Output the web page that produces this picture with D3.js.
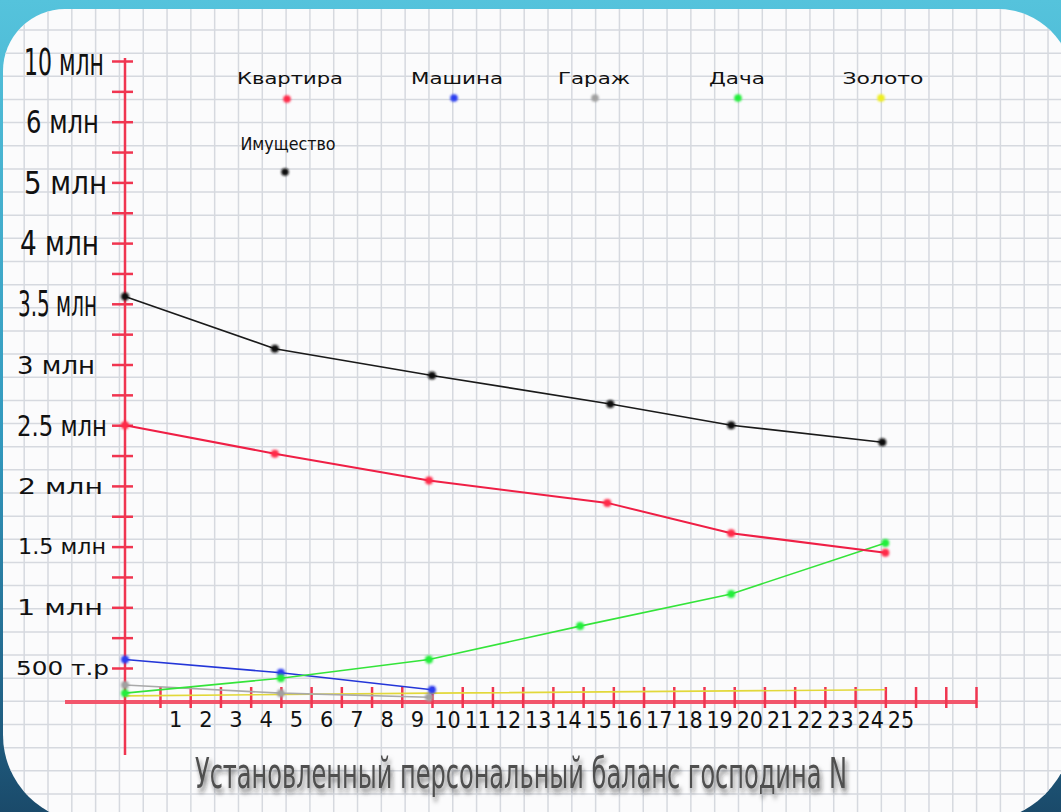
<!DOCTYPE html>
<html>
<head>
<meta charset="utf-8">
<script src="https://cdn.jsdelivr.net/npm/d3@7"></script>
<style>
  html, body { margin: 0; padding: 0; background: #fff; overflow: hidden; }
  svg { display: block; }
</style>
</head>
<body>
<div id="chart-area"></div>
<script>
// ---- data (values in millions) ----
var xLabels = d3.range(1, 26);                       // 1 .. 25
var xTickValues = d3.range(0.5, 28, 1);              // ticks between the numbers
var yTickValues = [0.5, 1, 1.5, 2, 2.5, 3, 3.5, 4, 5, 6, 10];
var yTickLabels = ["500 т.р", "1 млн", "1.5 млн", "2 млн", "2.5 млн", "3 млн",
                   "3.5 млн", "4 млн", "5 млн", "6 млн", "10 млн"];
var yMinorTicks = [0.75, 1.25, 1.75, 2.25, 2.75, 3.25, 3.75, 4.5, 5.5, 8];

var seriesNames = ["Квартира", "Машина", "Гараж", "Дача", "Золото", "Имущество"];

var kvartiraX  = [0, 4.3, 9.4, 15.3, 19.4, 24.5];
var kvartiraY  = [2.5, 2.265, 2.045, 1.86, 1.61, 1.45];
var mashinaX   = [0, 4.5, 9.5];
var mashinaY   = [0.57, 0.43, 0.18];
var garazhX    = [0, 4.5, 9.4];
var garazhY    = [0.25, 0.13, 0.07];
var dachaX     = [0, 4.5, 9.4, 14.4, 19.4, 24.5];
var dachaY     = [0.13, 0.35, 0.57, 0.845, 1.11, 1.53];
var zolotoX    = [0, 9.5, 24.5];
var zolotoY    = [0.09, 0.13, 0.18];
var imushX     = [0, 4.3, 9.5, 15.4, 19.4, 24.4];
var imushY     = [3.56, 3.13, 2.91, 2.675, 2.5, 2.36];

var title = "Установленный персональный баланс господина N";

// ---- styles ----
var NARROW = "'Liberation Sans Narrow', 'DejaVu Sans Condensed', sans-serif";
var WIDE = "'DejaVu Sans', Verdana, sans-serif";

var seriesStyle = {
  "Квартира":  { line: "#ef1f45", dot: "#ff2a48", width: 2 },
  "Машина":    { line: "#2436d8", dot: "#2a3cf0", width: 1.6 },
  "Гараж":     { line: "#a9a9a9", dot: "#a0a0a0", width: 1.6 },
  "Дача":      { line: "#34e43a", dot: "#22ee3a", width: 1.6 },
  "Золото":    { line: "#e2d83a", dot: "#eeee22", width: 1.6 },
  "Имущество": { line: "#1a1a1a", dot: "#111111", width: 1.6 }
};

// y label look differs from label to label (hand made picture)
var yLabelStyle = {
  "10 млн":  { font: NARROW, size: 38, w: 80, x: 24 },
  "6 млн":   { font: NARROW, size: 32, w: 73, x: 26 },
  "5 млн":   { font: NARROW, size: 32, w: 83, x: 24 },
  "4 млн":   { font: NARROW, size: 33, w: 79, x: 20 },
  "3.5 млн": { font: NARROW, size: 35, w: 79, x: 18 },
  "3 млн":   { font: WIDE,   size: 25, w: 78, x: 17 },
  "2.5 млн": { font: NARROW, size: 29, w: 90, x: 17 },
  "2 млн":   { font: WIDE,   size: 22, w: 85, x: 18 },
  "1.5 млн": { font: WIDE,   size: 21, w: 88, x: 18 },
  "1 млн":   { font: WIDE,   size: 21, w: 86, x: 17 },
  "500 т.р": { font: WIDE,   size: 19, w: 93, x: 16 }
};

// legend layout
var legendPos = {
  "Квартира":  { x: 290, dx: 287, ty: 84,  dy: 99,  w: 106, font: WIDE, size: 15.5 },
  "Машина":    { x: 457, dx: 454, ty: 84,  dy: 98,  w: 92,  font: WIDE, size: 15.5 },
  "Гараж":     { x: 594, dx: 595, ty: 84,  dy: 98,  w: 72,  font: WIDE, size: 15.5 },
  "Дача":      { x: 737, dx: 738, ty: 84,  dy: 98,  w: 56,  font: WIDE, size: 15.5 },
  "Золото":    { x: 883, dx: 881, ty: 84,  dy: 98,  w: 81,  font: WIDE, size: 15.5 },
  "Имущество": { x: 288, dx: 285, ty: 150, dy: 172, w: 95,  font: NARROW, size: 18 }
};

function init() {
  var W = 1061, H = 812;

  var svg = d3.select("#chart-area").append("svg")
      .attr("width", W)
      .attr("height", H);

  var defs = svg.append("defs");

  var grad = defs.append("linearGradient")
      .attr("id", "frameGrad")
      .attr("x1", 0).attr("y1", 0).attr("x2", 0).attr("y2", 1);
  grad.append("stop").attr("offset", "0%").attr("stop-color", "#55c3dc");
  grad.append("stop").attr("offset", "55%").attr("stop-color", "#3298bd");
  grad.append("stop").attr("offset", "85%").attr("stop-color", "#22658a");
  grad.append("stop").attr("offset", "100%").attr("stop-color", "#1a4a6a");

  var blur = defs.append("filter").attr("id", "soft")
      .attr("x", "-100%").attr("y", "-100%").attr("width", "300%").attr("height", "300%");
  blur.append("feGaussianBlur").attr("stdDeviation", 1.1);

  var shadow = defs.append("filter").attr("id", "shadow")
      .attr("x", "-10%").attr("y", "-30%").attr("width", "120%").attr("height", "180%");
  shadow.append("feDropShadow")
      .attr("dx", 2).attr("dy", 3).attr("stdDeviation", 2)
      .attr("flood-color", "#222").attr("flood-opacity", 0.6);

  // rounded paper with different corner radii
  function paperPath(x0, y0, x1, y1, rtl, rtr, rbr, rbl) {
    var p = d3.path();
    p.moveTo(x0 + rtl, y0);
    p.lineTo(x1 - rtr, y0);
    p.arcTo(x1, y0, x1, y0 + rtr, rtr);
    p.lineTo(x1, y1 - rbr);
    p.arcTo(x1, y1, x1 - rbr, y1, rbr);
    p.lineTo(x0 + rbl, y1);
    p.arcTo(x0, y1, x0, y1 - rbl, rbl);
    p.lineTo(x0, y0 + rtl);
    p.arcTo(x0, y0, x0 + rtl, y0, rtl);
    p.closePath();
    return p.toString();
  }
  var paperD = paperPath(3, 9, 1073, 822, 62, 75, 95, 87);

  defs.append("clipPath").attr("id", "paperClip")
    .append("path").attr("d", paperD);

  // frame
  svg.append("rect")
      .attr("width", W).attr("height", H)
      .attr("fill", "url(#frameGrad)");

  svg.append("path")
      .attr("d", paperD)
      .attr("fill", "#fbfbfc");

  // grid paper
  var grid = svg.append("g").attr("clip-path", "url(#paperClip)");
  grid.selectAll(".vgrid")
      .data(d3.range(-2, 45).map(function(k) { return 48 + k * 23.81; }))
      .enter().append("line")
      .attr("class", "vgrid")
      .attr("x1", function(d) { return d; }).attr("x2", function(d) { return d; })
      .attr("y1", 0).attr("y2", H)
      .attr("stroke", "#d6d9df").attr("stroke-width", 1.5);
  grid.selectAll(".hgrid")
      .data(d3.range(-1, 36).map(function(k) { return 30 + k * 23.15; }))
      .enter().append("line")
      .attr("class", "hgrid")
      .attr("y1", function(d) { return d; }).attr("y2", function(d) { return d; })
      .attr("x1", 0).attr("x2", W)
      .attr("stroke", "#d6d9df").attr("stroke-width", 1.5);

  // Scales (the drawn axes are not even, so both scales are piecewise)
  var x = d3.scaleLinear()
      .domain([0, 0.5, 27.5])
      .range([125, 160, 976]);

  var yStep = (668 - 61) / (yTickValues.length - 1);
  var y = d3.scaleLinear()
      .domain([0].concat(yTickValues))
      .range([702].concat(yTickValues.map(function(d, i) { return 668 - i * yStep; })));

  var axisRed = "#f03550";

  // X axis line
  svg.append("line")
      .attr("x1", 65).attr("x2", x(27.5))
      .attr("y1", y(0)).attr("y2", y(0))
      .attr("stroke", "#f2566c").attr("stroke-width", 4);

  // X ticks (cross the line)
  var xTicks = svg.append("g")
      .attr("class", "x axis")
      .attr("transform", "translate(0," + (y(0) - 15) + ")")
      .call(d3.axisBottom(x).tickValues(xTickValues).tickSize(21).tickFormat(""));
  xTicks.select(".domain").remove();
  xTicks.selectAll("line").attr("stroke", axisRed).attr("stroke-width", 2.5);

  // X labels
  var xLab = svg.append("g")
      .attr("transform", "translate(0," + (y(0) + 7) + ")")
      .call(d3.axisBottom(x).tickValues(xLabels).tickSize(0).tickPadding(3));
  xLab.select(".domain").remove();
  xLab.selectAll("text")
      .attr("fill", "#111")
      .style("font-family", function(d) { return d < 10 ? WIDE : NARROW; })
      .style("font-size", function(d) { return d < 10 ? "21px" : "23px"; });

  // Y axis line
  svg.append("line")
      .attr("x1", 125).attr("x2", 125)
      .attr("y1", 58).attr("y2", 755)
      .attr("stroke", axisRed).attr("stroke-width", 2.5);

  // Y ticks
  var yTicks = svg.append("g")
      .attr("class", "y axis")
      .attr("transform", "translate(133,0)")
      .call(d3.axisLeft(y).tickValues(yTickValues.concat(yMinorTicks)).tickSize(21).tickFormat(""));
  yTicks.select(".domain").remove();
  yTicks.selectAll("line").attr("stroke", axisRed).attr("stroke-width", 2.5);

  // Y labels
  svg.append("g").selectAll("text")
      .data(yTickValues)
      .enter().append("text")
      .attr("x", function(d, i) { return yLabelStyle[yTickLabels[i]].x; })
      .attr("y", function(d, i) { return y(d) + 0.36 * yLabelStyle[yTickLabels[i]].size; })
      .attr("textLength", function(d, i) { return yLabelStyle[yTickLabels[i]].w; })
      .attr("lengthAdjust", "spacingAndGlyphs")
      .style("font-family", function(d, i) { return yLabelStyle[yTickLabels[i]].font; })
      .style("font-size", function(d, i) { return yLabelStyle[yTickLabels[i]].size + "px"; })
      .attr("fill", "#111")
      .text(function(d, i) { return yTickLabels[i]; });

  // Series
  var series = [
    { name: "Золото",    xs: zolotoX,   ys: zolotoY,   dots: false },
    { name: "Гараж",     xs: garazhX,   ys: garazhY,   dots: true },
    { name: "Машина",    xs: mashinaX,  ys: mashinaY,  dots: true },
    { name: "Дача",      xs: dachaX,    ys: dachaY,    dots: true },
    { name: "Квартира",  xs: kvartiraX, ys: kvartiraY, dots: true },
    { name: "Имущество", xs: imushX,    ys: imushY,    dots: true }
  ];

  var line = d3.line()
      .x(function(d) { return x(d[0]); })
      .y(function(d) { return y(d[1]); });

  series.forEach(function(s) {
    var pts = s.xs.map(function(v, i) { return [v, s.ys[i]]; });
    var st = seriesStyle[s.name];
    svg.append("path")
        .attr("d", line(pts))
        .attr("fill", "none")
        .attr("stroke", st.line)
        .attr("stroke-width", st.width);
    if (s.dots) {
      svg.append("g").selectAll("circle")
          .data(pts)
          .enter().append("circle")
          .attr("cx", function(d) { return x(d[0]); })
          .attr("cy", function(d) { return y(d[1]); })
          .attr("r", 4)
          .attr("fill", st.dot)
          .attr("filter", "url(#soft)");
    }
  });

  // Legend
  var leg = svg.append("g").attr("class", "legend");
  seriesNames.forEach(function(name) {
    var p = legendPos[name];
    leg.append("text")
        .attr("x", p.x)
        .attr("y", p.ty)
        .attr("text-anchor", "middle")
        .attr("textLength", p.w)
        .attr("lengthAdjust", "spacingAndGlyphs")
        .style("font-family", p.font)
        .style("font-size", p.size + "px")
        .attr("fill", "#111")
        .text(name);
    leg.append("circle")
        .attr("cx", p.dx)
        .attr("cy", p.dy)
        .attr("r", 3.8)
        .attr("fill", seriesStyle[name].dot)
        .attr("filter", "url(#soft)");
  });

  // Title: small font stretched tall, so its natural width stays inside
  svg.append("g")
      .attr("transform", "translate(195,788) scale(1,1.45)")
    .append("text")
      .attr("x", 0)
      .attr("y", 0)
      .attr("textLength", 652)
      .attr("lengthAdjust", "spacingAndGlyphs")
      .style("font-family", NARROW)
      .style("font-size", "29px")
      .attr("fill", "#4f4f4f")
      .attr("filter", "url(#shadow)")
      .text(title);
}

init();
</script>
</body>
</html>
